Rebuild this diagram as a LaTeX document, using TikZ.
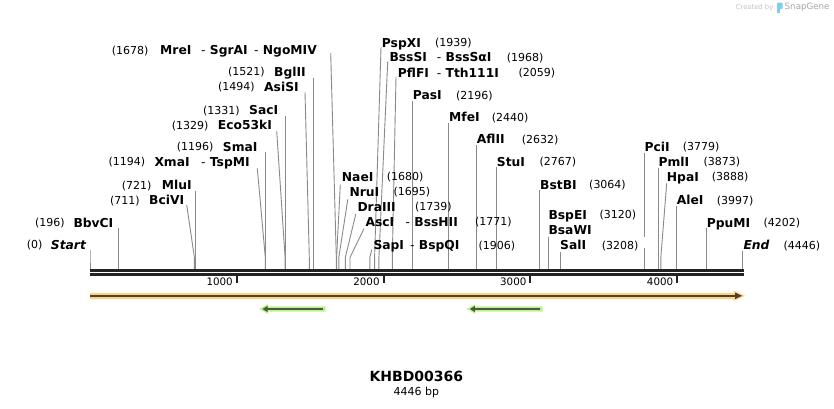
\documentclass[tikz,border=0pt]{standalone}
\usepackage{fontspec}
\setmainfont{DejaVu Sans}
\definecolor{cutgray}{HTML}{8A8A8A}
\definecolor{bbone}{HTML}{222222}
\definecolor{orangeL}{HTML}{FFD27F}
\definecolor{orangeD}{HTML}{4D4235}
\definecolor{greenL}{HTML}{B9F28F}
\definecolor{greenD}{HTML}{4B5A3D}
\definecolor{wmgray}{HTML}{C4C4C4}
\definecolor{wmgray2}{HTML}{A8A8A8}
\definecolor{wmblue}{HTML}{7ECBF3}
\newcommand\enzline[4]{%
  \coordinate (t#1) at (#2,#3);
  \coordinate (b#1) at (#4,269.3);
  \draw[cut] (t#1) -- (b#1 |- kink) -- (b#1);}
\begin{document}
\begin{tikzpicture}[x=1pt,y=-1pt,
  cut/.style={draw=cutgray, line width=0.9pt},
  nm/.style={font=\fontsize{12.3}{14}\selectfont\bfseries, text height=9pt, text depth=0pt, inner sep=0pt, anchor=west},
  nmi/.style={nm, font=\fontsize{12.3}{14}\selectfont\bfseries\itshape},
  num/.style={font=\fontsize{11}{13}\selectfont, text height=8pt, text depth=0pt, inner sep=0pt, anchor=west},
  ticklab/.style={font=\fontsize{10.3}{12}\selectfont, text height=7.5pt, text depth=0pt, inner sep=0pt, anchor=east},
  tickmark/.style={draw=bbone, line width=2pt},
  bb/.style={draw=bbone, line width=2.5pt}]
\fill[white] (0,0) rectangle (834,408);
\useasboundingbox (0,0) rectangle (834,408);
\coordinate (kink) at (0,257.5);

% ---------- cut-site lines ----------
\enzline{Start}{90}{250}{90}
\enzline{BbvCI}{118.8}{227.7}{118.8}
\enzline{BciVI}{186.7}{205}{194.4}
\enzline{MluI}{195.8}{190.7}{195.8}
\enzline{XmaI}{257.3}{168.3}{265.3}
\enzline{SmaI}{265.6}{152.3}{265.6}
\enzline{Eco}{276.7}{131}{285.1}
\enzline{SacI}{285.4}{116}{285.4}
\enzline{AsiSI}{305}{92.3}{309.3}
\enzline{BglII}{313.3}{77.7}{313.3}
\enzline{MreI}{330.7}{53}{336.3}
\enzline{NaeI}{340.3}{184.5}{336.6}
\enzline{NruI}{347.8}{199.3}{338.8}
\enzline{DraIII}{355.8}{214}{345.3}
\enzline{AscI}{364}{228.5}{350.0}
\enzline{SapI}{371.8}{249.5}{369.8}
\enzline{PspXI}{381}{47.3}{374.6}
\enzline{BssSI}{387.7}{61.7}{378.9}
\enzline{PflFI}{396}{76.7}{392.3}
\enzline{PasI}{412.4}{100.7}{412.4}
\enzline{MfeI}{448.6}{123.3}{448.6}
\enzline{AflII}{476.5}{145}{476.5}
\enzline{StuI}{496.4}{167.3}{496.4}
\enzline{BstBI}{539.8}{190}{539.8}
\enzline{BspEI}{548.2}{236.7}{548.2}
\enzline{SalI}{560.8}{251.7}{560.8}
\enzline{PciI}{644.6}{152.7}{644.6}
\enzline{PmlI}{658.5}{167.7}{658.5}
\enzline{HpaI}{666.7}{183.3}{660.8}
\enzline{AleI}{676.8}{206}{676.8}
\enzline{PpuMI}{706.8}{228.3}{706.8}
\enzline{End}{742.7}{250.7}{742.7}
\fill[white] (641,236.7) rectangle (646.5,248.3);

% ---------- backbone ----------
\coordinate (bbL1) at (90,270.5);
\coordinate (bbR1) at (743.8,270.5);
\coordinate (bbL2) at (90,274.4);
\coordinate (bbR2) at (743.8,274.4);
\draw[bb] (bbL1) -- (bbR1);
\draw[bb] (bbL2) -- (bbR2);
\foreach \k/\x in {1000/236.8,2000/383.6,3000/530.4,4000/677.2}{
  \coordinate (tk\k) at (\x,275.6);
  \draw[tickmark] (tk\k) -- ++(0,7.8);
  \node[ticklab] (tl\k) at (\x-3.8,281.8) {\k};
}

% ---------- features ----------
% orange forward feature
\fill[orangeL] (90,293) -- (733.5,293) -- (733.5,290.5) -- (745,295.8) -- (733.5,301.2) -- (733.5,299) -- (90,299) -- cycle;
\coordinate (oA) at (90,295.8);
\coordinate (oB) at (736,295.8);
\draw[orangeD, line width=2pt] (oA) -- (oB);
\fill[orangeD] (735,292.5) -- (742,295.8) -- (735,299.1) -- cycle;
% green reverse features
\foreach \a/\b in {259.3/325.7, 466.7/542.7}{
  \fill[greenL] (\b,306.3) -- (\a+8.5,306.3) -- (\a+8.5,304.2) -- (\a,309) -- (\a+8.5,313.8) -- (\a+8.5,311.7) -- (\b,311.7) -- cycle;
  \draw[greenD, line width=2pt] (\b-2.4,309) -- (\a+6,309);
  \fill[greenD] (\a+8.2,305.9) -- (\a+3.2,309) -- (\a+8.2,312.1) -- cycle;
}

% ---------- labels, left side ----------
\node[num] (nStart) at (26.7,244.5) {(0)};
\node[nmi] (lStart) at (50.7,244.5) {Start};
\node[num] (nBbvCI) at (35,222.7) {(196)};
\node[nm] (lBbvCI) at (73.3,222.7) {BbvCI};
\node[num] (nBciVI) at (110,200) {(711)};
\node[nm] (lBciVI) at (149,200) {BciVI};
\node[num] (nMluI) at (121.7,185) {(721)};
\node[nm] (lMluI) at (161.7,185) {MluI};
\node[num] (nXmaI) at (108.3,161.7) {(1194)};
\node[nm] (lXmaI) at (154.3,161.7) {XmaI};
\node[nm] (lTspMI) at (201,161.7) {{\mdseries-} TspMI};
\node[num] (nSmaI) at (176.7,146.7) {(1196)};
\node[nm] (lSmaI) at (222.7,146.7) {SmaI};
\node[num] (nEco) at (171.7,125) {(1329)};
\node[nm] (lEco) at (217.7,125) {Eco53kI};
\node[num] (nSacI) at (203,110) {(1331)};
\node[nm] (lSacI) at (249,110) {SacI};
\node[num] (nAsiSI) at (218,86.7) {(1494)};
\node[nm] (lAsiSI) at (264,86.7) {AsiSI};
\node[num] (nBglII) at (228,71.7) {(1521)};
\node[nm] (lBglII) at (274,71.7) {BglII};
\node[num] (nMreI) at (111.7,50) {(1678)};
\node[nm] (lMreI) at (160,50) {MreI};
\node[nm] (lSgrAI) at (201,50) {{\mdseries-} SgrAI};
\node[nm] (lNgoMIV) at (254,50) {{\mdseries-} NgoMIV};

% ---------- labels, middle ----------
\node[nm] (lPspXI) at (381.7,42.7) {PspXI};
\node[num] (nPspXI) at (435,42.7) {(1939)};
\node[nm] (lBssSI) at (389.3,57.3) {BssSI};
\node[nm] (lBssSaI) at (436.7,57.3) {{\mdseries-} BssSαI};
\node[num] (nBssSI) at (506.7,57.3) {(1968)};
\node[nm] (lPflFI) at (397.7,72.7) {PflFI};
\node[nm] (lTth) at (436.7,72.7) {{\mdseries-} Tth111I};
\node[num] (nPflFI) at (518.3,72.7) {(2059)};
\node[nm] (lPasI) at (412.7,95) {PasI};
\node[num] (nPasI) at (456,95) {(2196)};
\node[nm] (lMfeI) at (449,117.3) {MfeI};
\node[num] (nMfeI) at (491.7,117.3) {(2440)};
\node[nm] (lAflII) at (476.7,139.3) {AflII};
\node[num] (nAflII) at (521.7,139.3) {(2632)};
\node[nm] (lStuI) at (496.7,161.7) {StuI};
\node[num] (nStuI) at (539.3,161.7) {(2767)};
\node[nm] (lNaeI) at (341.7,176.7) {NaeI};
\node[num] (nNaeI) at (386.7,176.7) {(1680)};
\node[nm] (lNruI) at (349.3,191.7) {NruI};
\node[num] (nNruI) at (393.3,191.7) {(1695)};
\node[nm] (lDraIII) at (357.3,206.7) {DraIII};
\node[num] (nDraIII) at (415,206.7) {(1739)};
\node[nm] (lAscI) at (365.3,221.7) {AscI};
\node[nm] (lBssHII) at (405.5,221.7) {{\mdseries-} BssHII};
\node[num] (nAscI) at (475,221.7) {(1771)};
\node[nm] (lSapI) at (373.3,245) {SapI};
\node[nm] (lBspQI) at (410,245) {{\mdseries-} BspQI};
\node[num] (nSapI) at (478.3,245) {(1906)};

% ---------- labels, right side ----------
\node[nm] (lBstBI) at (540,184.5) {BstBI};
\node[num] (nBstBI) at (589,184.5) {(3064)};
\node[nm] (lBspEI) at (548.3,214.7) {BspEI};
\node[num] (nBspEI) at (599.3,214.7) {(3120)};
\node[nm] (lBsaWI) at (548.3,229.7) {BsaWI};
\node[nm] (lSalI) at (560,245) {SalI};
\node[num] (nSalI) at (601.7,245) {(3208)};
\node[nm] (lPciI) at (644.3,146.7) {PciI};
\node[num] (nPciI) at (682.7,146.7) {(3779)};
\node[nm] (lPmlI) at (658.3,161.7) {PmlI};
\node[num] (nPmlI) at (703.3,161.7) {(3873)};
\node[nm] (lHpaI) at (666.7,176.7) {HpaI};
\node[num] (nHpaI) at (711.7,176.7) {(3888)};
\node[nm] (lAleI) at (676.7,200) {AleI};
\node[num] (nAleI) at (716.7,200) {(3997)};
\node[nm] (lPpuMI) at (706.7,222.7) {PpuMI};
\node[num] (nPpuMI) at (763.3,222.7) {(4202)};
\node[nmi] (lEnd) at (743.3,245) {End};
\node[num] (nEnd) at (783.3,245) {(4446)};

% ---------- title ----------
\node[font=\fontsize{14}{16}\selectfont\bfseries, inner sep=0pt] (title) at (416.4,376.8) {KHBD00366};
\node[font=\fontsize{11}{13}\selectfont, inner sep=0pt] (len) at (416.4,392.3) {4446 bp};

% ---------- watermark ----------
\node[font=\fontsize{6.8}{8}\selectfont, text=wmgray, inner sep=0pt, anchor=east] (wm1) at (773.5,7.5) {Created by};
\fill[wmblue, rounded corners=1pt] (777,2.5) rectangle (782.5,9);
\fill[wmblue] (777,8) rectangle (779.5,13);
\node[font=\fontsize{8.7}{10}\selectfont, text=wmgray2, inner sep=0pt, anchor=west] (wm2) at (784.5,7.5) {SnapGene};
\end{tikzpicture}
\end{document}
